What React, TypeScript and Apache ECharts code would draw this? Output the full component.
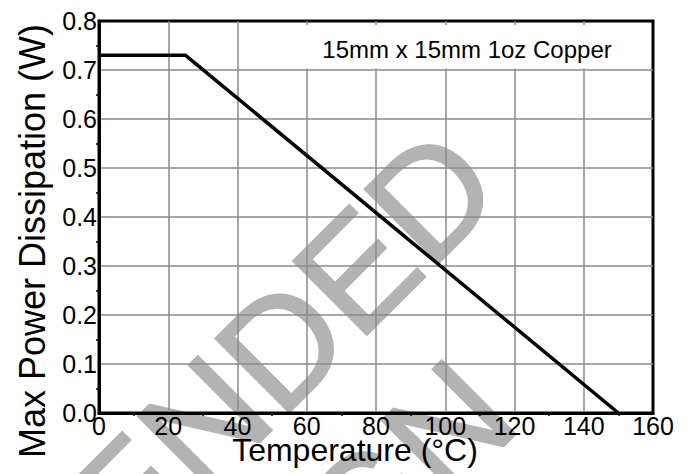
import React, { useEffect, useRef } from "react";
import * as echarts from "echarts";

// Data
const temperature = [0, 25, 150];
const maxPower = [0.73, 0.73, 0];
const xTitle = "Temperature (°C)";
const yTitle = "Max Power Dissipation (W)";
const note = "15mm x 15mm 1oz Copper";
const watermark1 = "NOT RECOMMENDED";
const watermark2 = "FOR NEW DESIGN";

const FONT = "'Liberation Sans', Arial, sans-serif";

export default function App() {
  const ref = useRef<HTMLDivElement>(null);
  useEffect(() => {
    if (!ref.current) return;
    const chart = echarts.init(ref.current, null, { renderer: "svg" });
    const r = Math.PI / 4;
    chart.setOption({
      animation: false,
      backgroundColor: "#fff",
      grid: {
        left: 99,
        right: 40,
        top: 21,
        bottom: 61,
        show: true,
        borderColor: "#000",
        borderWidth: 3,
        backgroundColor: "transparent",
      },
      xAxis: {
        type: "value",
        min: 0,
        max: 160,
        interval: 20,
        axisLine: { show: true, onZero: false, lineStyle: { color: "#000", width: 3 } },
        axisTick: { show: false },
        minorTick: { show: true, splitNumber: 2, length: 3, lineStyle: { color: "#000", width: 1.5 } },
        splitLine: { show: true, showMinLine: false, showMaxLine: false, lineStyle: { color: "#8a8a8a", width: 1.5 } },
        axisLabel: { color: "#000", fontSize: 25, fontFamily: FONT, margin: 0 },
      },
      yAxis: {
        type: "value",
        min: 0,
        max: 0.8,
        interval: 0.1,
        axisLine: { show: true, onZero: false, lineStyle: { color: "#000", width: 3 } },
        axisTick: { show: false },
        minorTick: { show: true, splitNumber: 2, length: 3, lineStyle: { color: "#000", width: 1.5 } },
        splitLine: { show: true, showMinLine: false, showMaxLine: false, lineStyle: { color: "#8a8a8a", width: 1.5 } },
        axisLabel: {
          color: "#000",
          fontSize: 25,
          fontFamily: FONT,
          margin: 2,
          formatter: (v: number) => v.toFixed(1),
        },
      },
      graphic: [
        {
          type: "text",
          z: -10,
          x: 470,
          y: 157,
          rotation: r,
          silent: true,
          style: {
            text: watermark1,
            fontSize: 152,
            fontFamily: FONT,
            fill: "#b3b3b3",
            stroke: "#b3b3b3",
            lineWidth: 2,
            textAlign: "right",
            textVerticalAlign: "middle",
          },
        },
        {
          type: "text",
          z: -10,
          x: 487,
          y: 388,
          rotation: r,
          silent: true,
          style: {
            text: watermark2,
            fontSize: 152,
            fontFamily: FONT,
            fill: "#b3b3b3",
            stroke: "#b3b3b3",
            lineWidth: 2,
            textAlign: "right",
            textVerticalAlign: "middle",
          },
        },
        {
          type: "rect",
          z: 1,
          silent: true,
          shape: { x: 300, y: 25, width: 351, height: 43.5 },
          style: { fill: "#fff" },
        },
        {
          type: "text",
          z: 2,
          x: 467,
          y: 49,
          style: {
            text: note,
            fontSize: 24,
            fontFamily: FONT,
            fill: "#000",
            textAlign: "center",
            textVerticalAlign: "middle",
          },
        },
        {
          type: "text",
          z: 2,
          x: 355,
          y: 450,
          style: {
            text: xTitle,
            fontSize: 32,
            fontFamily: FONT,
            fill: "#000",
            textAlign: "center",
            textVerticalAlign: "middle",
          },
        },
        {
          type: "text",
          z: 2,
          x: 32,
          y: 241,
          rotation: Math.PI / 2,
          style: {
            text: yTitle,
            fontSize: 36,
            fontFamily: FONT,
            fill: "#000",
            textAlign: "center",
            textVerticalAlign: "middle",
          },
        },
      ],
      series: [
        {
          type: "line",
          data: temperature.map((t, i) => [t, maxPower[i]]),
          symbol: "none",
          z: 5,
          lineStyle: { color: "#000", width: 3.5 },
        },
      ],
    });
    return () => chart.dispose();
  }, []);
  return (
    <div
      ref={ref}
      style={{ position: "fixed", left: 0, top: 0, width: 693, height: 474 }}
    />
  );
}
